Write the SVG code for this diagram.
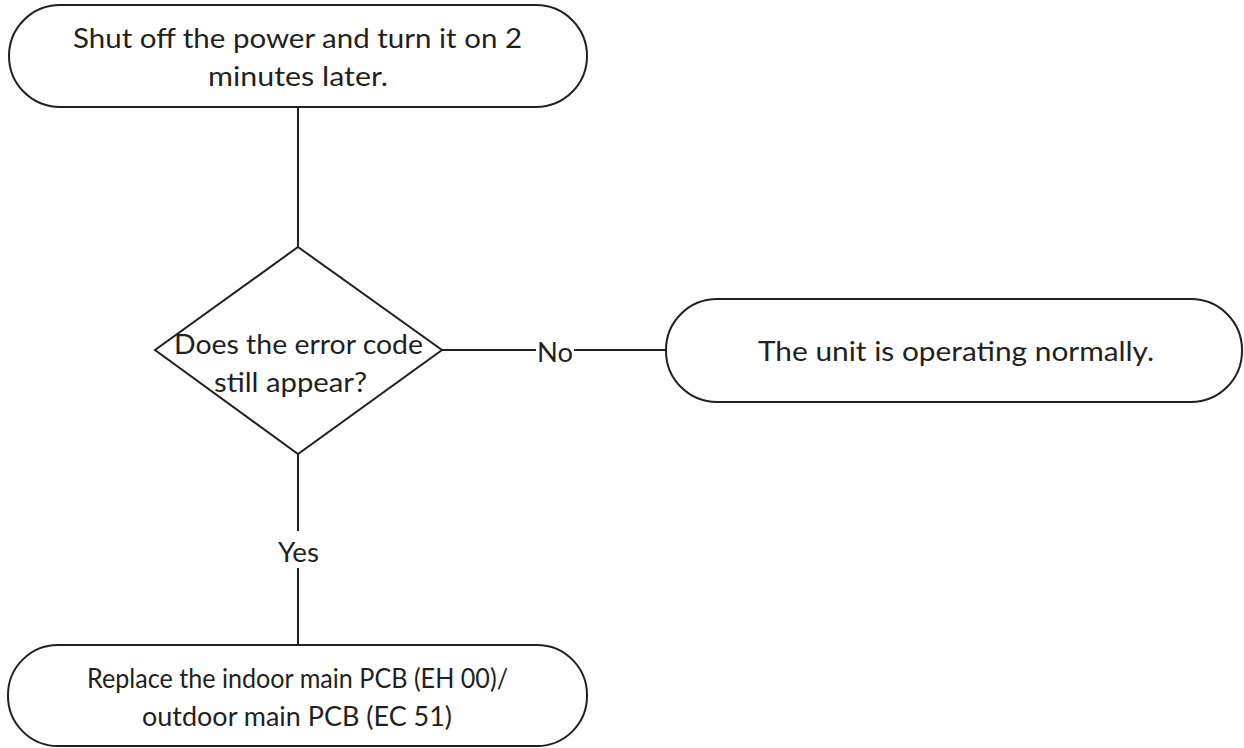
<svg xmlns="http://www.w3.org/2000/svg" width="1244" height="748" viewBox="0 0 1244 748">
<style>
.shape{fill:#ffffff;stroke:#231f20;stroke-width:2}
.conn{fill:none;stroke:#231f20;stroke-width:2}
.t{font-family:Lato,"Open Sans","Liberation Sans",sans-serif;font-size:27px;fill:#231f20}
</style>
<rect width="1244" height="748" fill="#ffffff"/>
<g id="connectors">
<line class="conn" x1="298" y1="107" x2="298" y2="247"/>
<line class="conn" x1="442" y1="350" x2="536" y2="350"/>
<line class="conn" x1="574" y1="350" x2="666" y2="350"/>
<line class="conn" x1="298" y1="454" x2="298" y2="531"/>
<line class="conn" x1="298" y1="568" x2="298" y2="645"/>
<text class="t" x="537" y="362" textLength="36" lengthAdjust="spacingAndGlyphs">No</text>
<text class="t" x="278" y="562" textLength="41" lengthAdjust="spacingAndGlyphs">Yes</text>
</g>
<g id="start">
<rect class="shape" x="9" y="5" width="578" height="102" rx="51" ry="51"/>
<text class="t" x="73" y="48" textLength="449" lengthAdjust="spacingAndGlyphs">Shut off the power and turn it on 2</text>
<text class="t" x="208" y="86" textLength="180" lengthAdjust="spacingAndGlyphs">minutes later.</text>
</g>
<g id="decision">
<polygon class="shape" points="298,247 442,350 298,454 155,350"/>
<text class="t" x="174" y="354" textLength="249" lengthAdjust="spacingAndGlyphs">Does the error code</text>
<text class="t" x="214" y="392" textLength="153" lengthAdjust="spacingAndGlyphs">still appear?</text>
</g>
<g id="normal">
<rect class="shape" x="666" y="299" width="576" height="103" rx="51" ry="51"/>
<text class="t" x="758" y="361" textLength="396" lengthAdjust="spacingAndGlyphs">The unit is operating normally.</text>
</g>
<g id="replace">
<rect class="shape" x="8" y="645" width="579" height="101" rx="50" ry="50"/>
<text class="t" x="87" y="688" textLength="421" lengthAdjust="spacingAndGlyphs">Replace the indoor main PCB (EH 00)/</text>
<text class="t" x="142" y="726" textLength="310" lengthAdjust="spacingAndGlyphs">outdoor main PCB (EC 51)</text>
</g>
</svg>
